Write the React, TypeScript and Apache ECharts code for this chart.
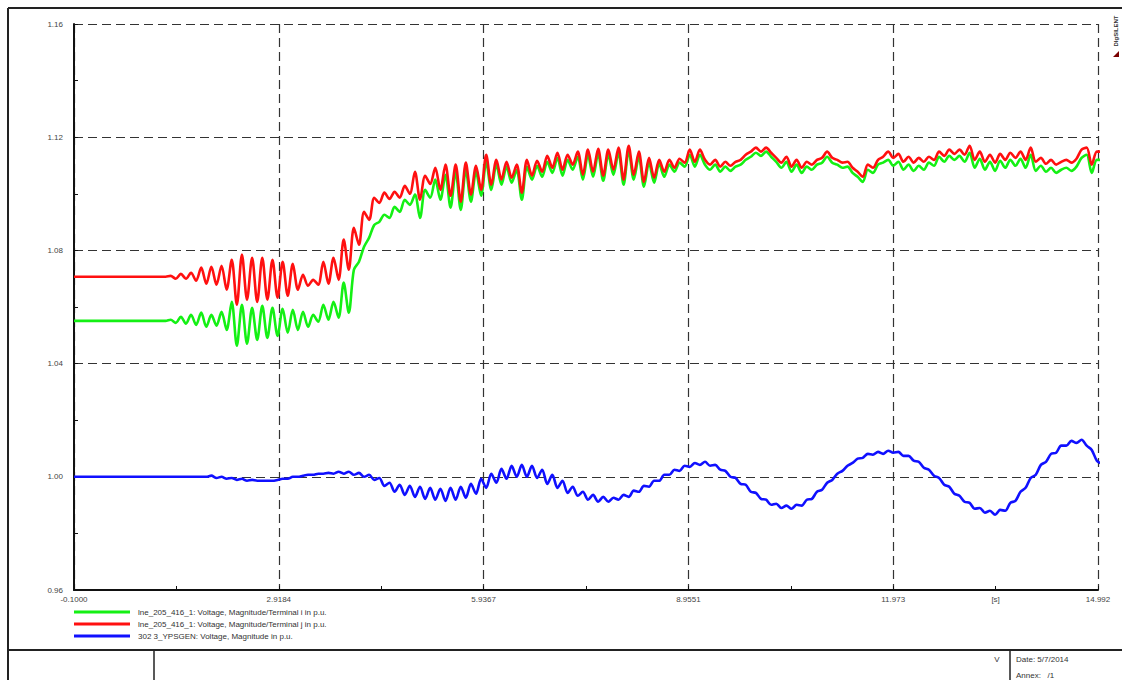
import React, { useEffect, useRef } from "react";
import * as echarts from "echarts";

// sampling grid of the recorded signals [s]
const T0 = -0.1;
const DT = 0.075;

// lne_205_416_1 terminal i voltage [p.u.]
const GREEN_I = [
  1.0551, 1.0551, 1.0551, 1.0551, 1.0551, 1.0551, 1.0551, 1.0551, 1.0551, 1.0551,
  1.0551, 1.0551, 1.0551, 1.0551, 1.0551, 1.0551, 1.0551, 1.0551, 1.0551, 1.0555,
  1.0544, 1.0565, 1.0541, 1.0572, 1.0537, 1.058, 1.053, 1.0572, 1.0534, 1.0583,
  1.0519, 1.0618, 1.0463, 1.0608, 1.047, 1.0597, 1.0484, 1.0604, 1.0491, 1.0597,
  1.0498, 1.0594, 1.0509, 1.059, 1.0519, 1.0583, 1.053, 1.0572, 1.0548, 1.0608,
  1.0555, 1.0618, 1.0562, 1.0686, 1.058, 1.0732, 1.076, 1.0813, 1.0845, 1.089,
  1.0901, 1.0926, 1.0915, 1.0954, 1.0936, 1.0979, 1.0961, 1.0997, 1.0915, 1.1014,
  1.0986, 1.105, 1.0979, 1.1067, 1.0951, 1.1078, 1.0943, 1.1085, 1.0972, 1.1078,
  1.0993, 1.1113, 1.1014, 1.1103, 1.1032, 1.1096, 1.1039, 1.1085, 1.0979, 1.1096,
  1.105, 1.1099, 1.106, 1.1113, 1.1074, 1.1127, 1.1064, 1.112, 1.1085, 1.1131,
  1.105, 1.1138, 1.106, 1.1141, 1.1046, 1.1138, 1.1067, 1.1145, 1.1032, 1.1152,
  1.105, 1.1131, 1.1025, 1.111, 1.1039, 1.1106, 1.106, 1.1103, 1.1078, 1.111,
  1.1096, 1.1138, 1.1096, 1.1138, 1.1103, 1.1085, 1.1103, 1.1078, 1.1096, 1.1081,
  1.1096, 1.1103, 1.112, 1.1131, 1.1145, 1.1134, 1.1149, 1.1131, 1.1113, 1.1092,
  1.1113, 1.1078, 1.1103, 1.1074, 1.1096, 1.1085, 1.1103, 1.111, 1.1131, 1.111,
  1.1103, 1.1092, 1.1096, 1.1074, 1.106, 1.1042, 1.1085, 1.1074, 1.1103, 1.111,
  1.112, 1.1099, 1.1113, 1.1085, 1.1103, 1.1081, 1.1099, 1.1085, 1.111, 1.1099,
  1.1131, 1.1113, 1.1134, 1.112, 1.1134, 1.1113, 1.1145, 1.1092, 1.1124, 1.1085,
  1.1113, 1.1081, 1.1117, 1.1092, 1.112, 1.1099, 1.1124, 1.1092, 1.1138, 1.1081,
  1.1099, 1.1078, 1.1092, 1.1074, 1.1085, 1.1092, 1.1081, 1.1096, 1.1127, 1.1138,
  1.1074, 1.112, 1.112,
];

// lne_205_416_1 terminal j voltage [p.u.]
const RED_J = [
  1.0707, 1.0707, 1.0707, 1.0707, 1.0707, 1.0707, 1.0707, 1.0707, 1.0707, 1.0707,
  1.0707, 1.0707, 1.0707, 1.0707, 1.0707, 1.0707, 1.0707, 1.0707, 1.0707, 1.071,
  1.07, 1.0717, 1.07, 1.0721, 1.0693, 1.0739, 1.0682, 1.0742, 1.0679, 1.0746,
  1.0661, 1.0767, 1.0608, 1.0785, 1.0626, 1.0774, 1.0618, 1.0774, 1.0626, 1.0767,
  1.0633, 1.076, 1.064, 1.0753, 1.0661, 1.0714, 1.0675, 1.0696, 1.0679, 1.076,
  1.0682, 1.0774, 1.0696, 1.0838, 1.0732, 1.088, 1.082, 1.0936, 1.0908, 1.0986,
  1.0968, 1.1004, 1.0982, 1.1007, 1.0986, 1.1028, 1.1, 1.1078, 1.0979, 1.1064,
  1.1035, 1.1092, 1.1014, 1.1103, 1.0993, 1.1103, 1.0972, 1.111, 1.0997, 1.1099,
  1.1014, 1.1138, 1.1032, 1.112, 1.105, 1.1113, 1.1057, 1.1103, 1.1004, 1.112,
  1.1064, 1.1117, 1.1078, 1.1134, 1.1092, 1.1145, 1.1085, 1.1138, 1.1103, 1.1149,
  1.1067, 1.1156, 1.1078, 1.1159, 1.1064, 1.1156, 1.1085, 1.1163, 1.105, 1.117,
  1.1067, 1.1149, 1.1042, 1.1127, 1.1057, 1.112, 1.1078, 1.112, 1.1092, 1.1124,
  1.111, 1.1156, 1.1113, 1.1156, 1.112, 1.1103, 1.112, 1.1096, 1.1113, 1.1099,
  1.1113, 1.112, 1.1138, 1.1149, 1.1163, 1.1149, 1.1163, 1.1145, 1.1127, 1.111,
  1.1131, 1.1096, 1.112, 1.1092, 1.1113, 1.1103, 1.112, 1.1127, 1.1149, 1.1127,
  1.112, 1.111, 1.1113, 1.1092, 1.1078, 1.106, 1.1103, 1.1092, 1.112, 1.1131,
  1.1149, 1.1127, 1.1141, 1.1113, 1.1131, 1.111, 1.1127, 1.1113, 1.1131, 1.112,
  1.1149, 1.1134, 1.1156, 1.1141, 1.1156, 1.1138, 1.117, 1.112, 1.1149, 1.1113,
  1.1138, 1.111, 1.1141, 1.112, 1.1145, 1.1127, 1.1149, 1.112, 1.1163, 1.1113,
  1.1127, 1.1106, 1.112, 1.1103, 1.1113, 1.112, 1.111, 1.1124, 1.1156, 1.1163,
  1.1103, 1.1149, 1.1149,
];

// 302 3_YPSGEN voltage [p.u.]
const BLUE_GEN = [
  1.0, 1.0, 1.0, 1.0, 1.0, 1.0, 1.0, 1.0, 1.0, 1.0,
  1.0, 1.0, 1.0, 1.0, 1.0, 1.0, 1.0, 1.0, 1.0, 1.0,
  1.0, 1.0, 1.0, 1.0, 1.0, 1.0, 1.0, 1.0004, 0.9996, 1.0,
  0.9993, 0.9996, 0.9989, 0.9993, 0.9986, 0.9989, 0.9986, 0.9986, 0.9986, 0.9986,
  0.9989, 0.9993, 0.9993, 1.0, 1.0, 1.0004, 1.0007, 1.0007, 1.0011, 1.0011,
  1.0014, 1.0011, 1.0018, 1.0011, 1.0018, 1.0007, 1.0014, 1.0, 1.0007, 0.9989,
  0.9996, 0.9968, 0.9979, 0.9947, 0.9972, 0.9936, 0.9968, 0.9929, 0.9965, 0.9922,
  0.9961, 0.9919, 0.9958, 0.9915, 0.9961, 0.9919, 0.9965, 0.9926, 0.9975, 0.994,
  0.9993, 0.9961, 1.0011, 0.9979, 1.0028, 0.9993, 1.0039, 1.0, 1.0042, 1.0,
  1.0039, 0.9996, 1.0025, 0.9975, 1.0007, 0.9961, 0.9986, 0.9943, 0.9965, 0.9933,
  0.9947, 0.9919, 0.9936, 0.9912, 0.9929, 0.9912, 0.9926, 0.9919, 0.9936, 0.9929,
  0.9951, 0.9947, 0.9968, 0.9965, 0.9986, 0.9986, 1.0007, 1.0007, 1.0025, 1.0021,
  1.0039, 1.0035, 1.0049, 1.0042, 1.0053, 1.0039, 1.0042, 1.0025, 1.0021, 1.0,
  0.9996, 0.9975, 0.9972, 0.9947, 0.9943, 0.9922, 0.9919, 0.9901, 0.9905, 0.989,
  0.9898, 0.9887, 0.9901, 0.9898, 0.9919, 0.9922, 0.9947, 0.9954, 0.9979, 0.9989,
  1.0011, 1.0021, 1.0039, 1.0049, 1.0064, 1.0067, 1.0081, 1.0078, 1.0088, 1.0081,
  1.0092, 1.0085, 1.0088, 1.0074, 1.0074, 1.0057, 1.0053, 1.0032, 1.0025, 1.0004,
  0.9996, 0.9972, 0.9965, 0.994, 0.9933, 0.9912, 0.9908, 0.9887, 0.989, 0.9873,
  0.988, 0.9866, 0.9883, 0.988, 0.9908, 0.9915, 0.9947, 0.9961, 0.9996, 1.0007,
  1.0042, 1.0053, 1.0081, 1.0085, 1.011, 1.011, 1.0127, 1.012, 1.0131, 1.011,
  1.0095, 1.0057, 1.0046,
];

const SERIES_NAMES = [
  "lne_205_416_1: Voltage, Magnitude/Terminal i in p.u.",
  "lne_205_416_1: Voltage, Magnitude/Terminal j in p.u.",
  "302 3_YPSGEN: Voltage, Magnitude in p.u.",
];
const SERIES_COLORS = ["#14f014", "#ff1010", "#1010ff"];

const X_MIN = -0.1;
const X_MAX = 14.992;
const X_SPAN = 15.092;
const X_GRID_STEP = 3.0184;
const X_TICK_STEP = 1.5092;
const X_TICK_LABELS = ["-0.1000", "", "2.9184", "", "5.9367", "", "8.9551", "", "11.973", "[s]", "14.992"];

const Y_MIN = 0.96;
const Y_MAX = 1.16;
const Y_GRID_STEP = 0.04;
const Y_TICK_STEP = 0.02;
const Y_TICK_LABELS = ["0.96", "", "1.00", "", "1.04", "", "1.08", "", "1.12", "", "1.16"];

const FONT = "Liberation Sans, Arial, sans-serif";

export default function App() {
  const ref = useRef<HTMLDivElement>(null);

  useEffect(() => {
    if (!ref.current) return;
    const chart = echarts.init(ref.current, undefined, { renderer: "svg" });
    const toPairs = (arr: number[]) => arr.map((v, i) => [T0 + i * DT, v]);
    const seriesData = [GREEN_I, RED_J, BLUE_GEN];
    const dash = { color: "#333", type: [9, 5], width: 1.2 };

    chart.setOption({
      animation: false,
      backgroundColor: "#ffffff",
      grid: { left: 74, right: 24, top: 24, bottom: 90, containLabel: false },
      xAxis: [
        { type: "value", position: "top", min: X_MIN, max: X_MAX, show: false },
        {
          type: "value",
          position: "bottom",
          min: 0,
          max: X_SPAN,
          interval: X_TICK_STEP,
          axisLine: { show: true, onZero: false, lineStyle: { color: "#111", width: 2 } },
          axisTick: { show: true, inside: true, length: 4, lineStyle: { color: "#111", width: 1 } },
          splitLine: { show: false },
          axisLabel: {
            show: true,
            showMinLabel: true,
            showMaxLabel: true,
            margin: 5,
            fontSize: 8,
            color: "#444",
            fontFamily: FONT,
            formatter: (v: number) => X_TICK_LABELS[Math.round(v / X_TICK_STEP)] ?? "",
          },
        },
        {
          type: "value",
          position: "bottom",
          min: 0,
          max: X_SPAN,
          interval: X_GRID_STEP,
          axisLine: { show: false },
          axisTick: { show: false },
          axisLabel: { show: false },
          splitLine: { show: true, lineStyle: dash },
        },
      ],
      yAxis: [
        {
          type: "value",
          position: "left",
          min: Y_MIN,
          max: Y_MAX,
          interval: Y_TICK_STEP,
          axisLine: { show: true, onZero: false, lineStyle: { color: "#111", width: 2 } },
          axisTick: { show: true, inside: true, length: 4, lineStyle: { color: "#111" } },
          axisLabel: {
            margin: 11,
            fontSize: 8,
            color: "#444",
            fontFamily: FONT,
            showMinLabel: true,
            showMaxLabel: true,
            formatter: (v: number) => Y_TICK_LABELS[Math.round((v - Y_MIN) / Y_TICK_STEP)] ?? "",
          },
          splitLine: { show: false },
        },
        {
          type: "value",
          position: "right",
          min: Y_MIN,
          max: Y_MAX,
          interval: Y_GRID_STEP,
          axisLine: { show: false },
          axisTick: { show: false },
          axisLabel: { show: false },
          splitLine: { show: true, lineStyle: dash },
        },
      ],
      legend: {
        orient: "vertical",
        left: 74,
        top: 607,
        padding: 0,
        itemGap: 2,
        itemWidth: 56,
        itemHeight: 3,
        icon: "rect",
        selectedMode: false,
        data: SERIES_NAMES,
        textStyle: { fontSize: 8, color: "#333", lineHeight: 10, fontFamily: FONT, padding: [0, 0, 0, 3] },
      },
      series: SERIES_NAMES.map((name, k) => ({
        name,
        type: "line",
        xAxisIndex: 0,
        yAxisIndex: 0,
        data: toPairs(seriesData[k]),
        showSymbol: false,
        symbol: "none",
        smooth: 0.3,
        color: SERIES_COLORS[k],
        lineStyle: { color: SERIES_COLORS[k], width: 2.6 },
        silent: true,
        z: 3 + k,
      })),
      graphic: [
        { type: "line", shape: { x1: 8, y1: 8, x2: 1122, y2: 8 }, style: { stroke: "#222", lineWidth: 2 }, silent: true },
        { type: "line", shape: { x1: 8, y1: 8, x2: 8, y2: 680 }, style: { stroke: "#222", lineWidth: 2 }, silent: true },
        { type: "line", shape: { x1: 8, y1: 650, x2: 1122, y2: 650 }, style: { stroke: "#222", lineWidth: 2 }, silent: true },
        { type: "line", shape: { x1: 154, y1: 650, x2: 154, y2: 680 }, style: { stroke: "#222", lineWidth: 1.5 }, silent: true },
        { type: "line", shape: { x1: 1010, y1: 650, x2: 1010, y2: 680 }, style: { stroke: "#222", lineWidth: 1.5 }, silent: true },
        {
          type: "text",
          x: 997,
          y: 659,
          style: { text: "V", fontSize: 8, fill: "#333", fontFamily: FONT, align: "center", verticalAlign: "middle" },
          silent: true,
        },
        {
          type: "text",
          x: 1016,
          y: 659,
          style: { text: "Date: 5/7/2014", fontSize: 8, fill: "#333", fontFamily: FONT, align: "left", verticalAlign: "middle" },
          silent: true,
        },
        {
          type: "text",
          x: 1016,
          y: 675,
          style: { text: "Annex:   /1", fontSize: 8, fill: "#333", fontFamily: FONT, align: "left", verticalAlign: "middle" },
          silent: true,
        },
        {
          type: "text",
          x: 1116,
          y: 31,
          rotation: Math.PI / 2,
          style: { text: "DIgSILENT", fontSize: 6, fill: "#333", fontFamily: FONT, fontWeight: "bold", align: "center", verticalAlign: "middle" },
          silent: true,
        },
        {
          type: "polygon",
          shape: { points: [[1113, 57], [1119, 51], [1119, 57]] },
          style: { fill: "#7a0000" },
          silent: true,
        },
      ],
    });

    return () => chart.dispose();
  }, []);

  return (
    <div
      ref={ref}
      style={{ position: "absolute", left: 0, top: 0, width: 1122, height: 680, background: "#fff" }}
    />
  );
}
